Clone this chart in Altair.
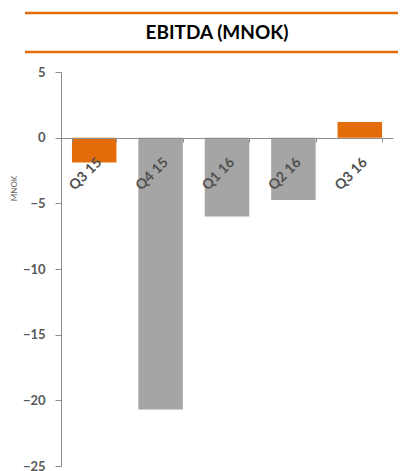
import altair as alt
import pandas as pd

quarters = ["Q3 15", "Q4 15", "Q1 16", "Q2 16", "Q3 16"]
ebitda = [-1.9, -20.7, -6.0, -4.75, 1.2]
bar_colors = ["#E46C0A", "#A5A5A5", "#A5A5A5", "#A5A5A5", "#E46C0A"]
y_ticks = [5, 0, -5, -10, -15, -20, -25]

df = pd.DataFrame({"quarter": quarters, "value": ebitda, "color": bar_colors})

FONT = "Lato"

bars = alt.Chart(df).mark_bar().encode(
    x=alt.X(
        "quarter:N",
        sort=quarters,
        scale=alt.Scale(paddingInner=0.33, paddingOuter=0.165),
        axis=alt.Axis(
            title=None,
            offset=-328,
            labelAngle=-45,
            labelAlign="right",
            labelBaseline="top",
            labelFont=FONT,
            labelFontSize=14,
            labelFontWeight="bold",
            labelColor="#505050",
            labelPadding=13,
            domainColor="#8C8C8C",
            tickColor="#8C8C8C",
            tickSize=4,
            tickBand="extent",
            zindex=1,
        ),
    ),
    y=alt.Y(
        "value:Q",
        scale=alt.Scale(domain=[-25, 5], nice=False),
        axis=alt.Axis(
            values=y_ticks,
            title="MNOK",
            titleFont=FONT,
            titleFontSize=8,
            titleFontWeight="normal",
            titleColor="#595959",
            titleX=-47,
            titleY=116,
            titleAngle=-90,
            titleBaseline="middle",
            labelFont=FONT,
            labelFontSize=13,
            labelFontWeight="bold",
            labelColor="#595959",
            labelPadding=10,
            domainColor="#8C8C8C",
            tickColor="#8C8C8C",
            tickSize=6,
            grid=False,
        ),
    ),
    color=alt.Color("color:N", scale=None),
)

title_text = alt.Chart(pd.DataFrame({"t": ["EBITDA (MNOK)"]})).mark_text(
    font=FONT, fontSize=19, fontWeight="bold", color="#000000",
    align="center", baseline="middle",
).encode(text="t:N", x=alt.value(156), y=alt.value(-39))

line_top = alt.Chart(pd.DataFrame({"a": [0]})).mark_rule(
    color="#E46C0A", strokeWidth=2.5
).encode(x=alt.value(-36), x2=alt.value(345), y=alt.value(-59))

line_bottom = alt.Chart(pd.DataFrame({"a": [0]})).mark_rule(
    color="#E46C0A", strokeWidth=2.5
).encode(x=alt.value(-36), x2=alt.value(345), y=alt.value(-20))

chart = alt.layer(bars, line_top, line_bottom, title_text).properties(
    width=332,
    height=394,
    autosize=alt.AutoSizeParams(type="none"),
    padding={"left": 53, "top": 64, "right": 5, "bottom": 5},
).configure_view(stroke=None, clip=False)

chart.save("out.html", embed_options={"renderer": "svg", "actions": False})
